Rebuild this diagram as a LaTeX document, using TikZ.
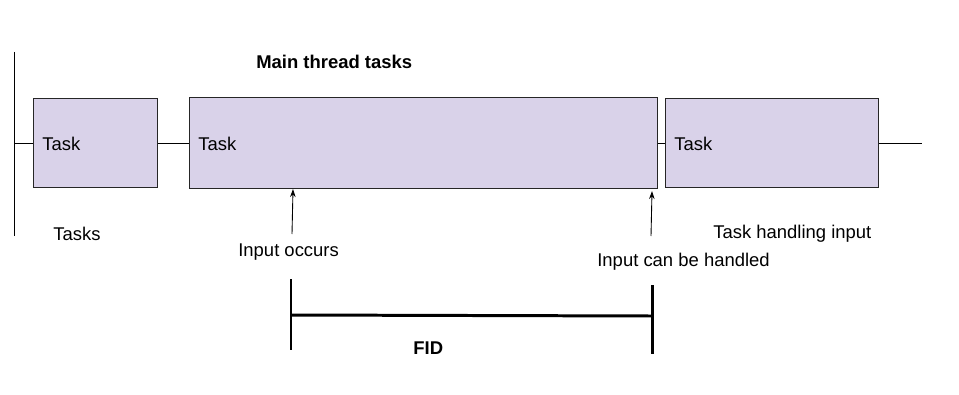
\documentclass[tikz,border=0pt]{standalone}
\usepackage{fontspec}
\setmainfont{Liberation Sans}
\usepackage{xcolor}
\usetikzlibrary{arrows.meta,positioning}
\definecolor{lav}{HTML}{D9D2E9}

\begin{document}
\begin{tikzpicture}[
  x=0.02cm, y=-0.02cm,
  font=\fontsize{10.5}{12}\selectfont,
  task/.style={rectangle, draw=black!85, fill=lav, line width=0.6pt, anchor=north west, inner sep=0pt},
  lbl/.style={anchor=west, inner sep=0pt},
  tl/.style={line width=0.5pt},
  arr/.style={-{Stealth[length=1.6mm, width=1.1mm]}, line width=0.5pt},
  fid/.style={line width=1.7pt}
]
\useasboundingbox (0,0) rectangle (959,395);
% task boxes
\node[task, minimum width=2.48cm, minimum height=1.78cm] (box1) at (33,98)  {};
\node[task, minimum width=9.36cm, minimum height=1.82cm] (box2) at (189,97) {};
\node[task, minimum width=4.26cm, minimum height=1.78cm] (box3) at (665,98) {};
\node[lbl] (t1) at ([xshift=0.18cm,yshift=-0.02cm]box1.west) {Task};
\node[lbl] (t2) at ([xshift=0.18cm,yshift=-0.02cm]box2.west) {Task};
\node[lbl] (t3) at ([xshift=0.18cm,yshift=-0.02cm]box3.west) {Task};
% timeline
\coordinate (axtop) at (14,52);
\coordinate (axbot) at (14,236);
\coordinate (tlend) at (922,141);
\draw[tl] (axtop) -- (axbot);
\draw[tl] (axtop |- box1.west) -- (box1.west);
\draw[tl] (box1.east) -- (box2.west |- box1.east);
\draw[tl] (box2.east |- box3.west) -- (box3.west);
\draw[tl] (box3.east) -- (box3.east -| tlend);
% labels
\node[lbl, font=\fontsize{10.5}{12}\selectfont\bfseries] (title) at (256,62) {Main thread tasks};
\node[lbl] (tasks) at (53,234) {Tasks};
\node[lbl] (occurs) at (238,252) {Input occurs};
\node[lbl] (handled) at (597,262) {Input can be handled};
\node[lbl] (handling) at (713,234) {Task handling input};
% input arrows
\coordinate (a1) at (292,234);
\coordinate (a2) at (651,236);
\draw[arr] (a1) -- ([xshift=0.02cm]a1 |- box2.south) coordinate (a1end);
\draw[arr] (a2) -- ([xshift=0.02cm,yshift=-0.04cm]a2 |- box2.south) coordinate (a2end);
% FID bracket
\coordinate (fl1) at (291,279);
\coordinate (fl2) at (291,350);
\coordinate (fr1) at (652,285);
\coordinate (fr2) at (652,354);
\draw[fid] (fl1) -- (fl2);
\draw[fid] (fr1) -- (fr2);
\draw[fid] (fl1 |- 0,315) -- (fr1 |- 0,316);
\node[lbl, font=\fontsize{10.5}{12}\selectfont\bfseries] (fidlab) at (413,348) {FID};
\end{tikzpicture}
\end{document}
